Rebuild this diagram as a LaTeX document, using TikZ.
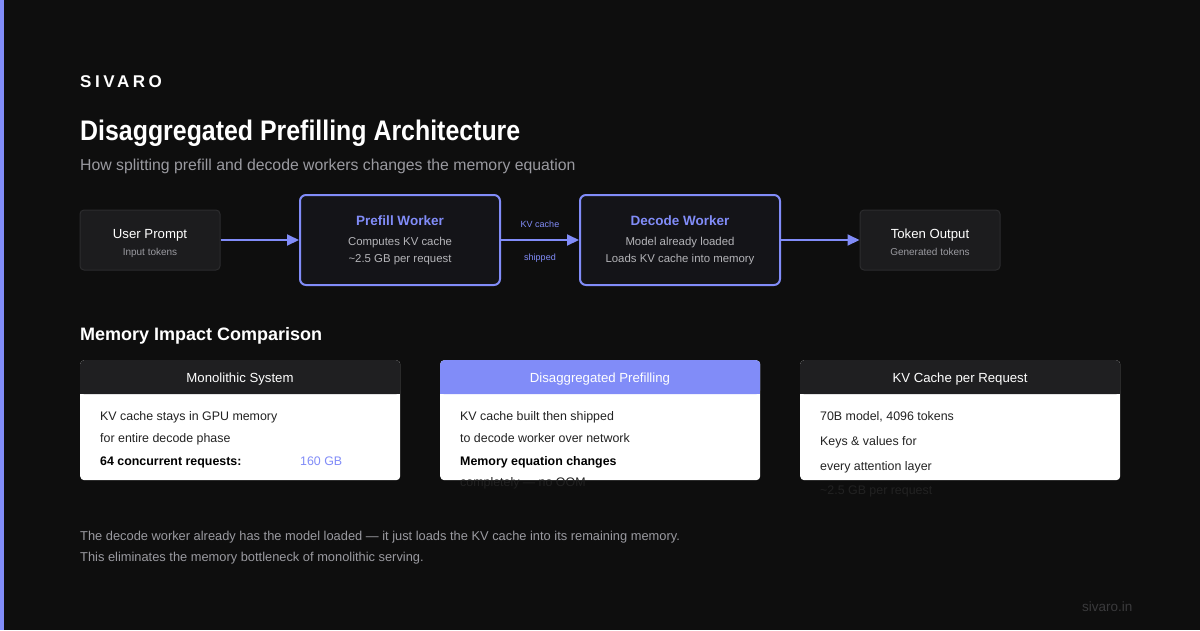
\documentclass[tikz,border=0pt]{standalone}
\usepackage{fontspec}
\setmainfont{Liberation Sans}
\newfontfamily\condfont[FakeStretch=0.88]{Liberation Sans}
\newfontfamily\logofont[LetterSpace=21]{Liberation Sans}
\usetikzlibrary{arrows.meta,positioning}
\definecolor{pagebg}{HTML}{0E0E0E}
\definecolor{accent}{HTML}{818CF8}
\definecolor{boxfill}{HTML}{1C1C1E}
\definecolor{boxline}{HTML}{2C2C2E}
\definecolor{workfill}{HTML}{141418}
\definecolor{hdrfill}{HTML}{1F1F21}
\definecolor{subgray}{HTML}{9A9AA0}
\definecolor{linegray}{HTML}{B4B4B8}
\definecolor{bodyink}{HTML}{222222}
\definecolor{sitegray}{HTML}{3A3A3C}

\tikzset{
  smallbox/.style={draw=boxline, line width=1pt, fill=boxfill, rounded corners=4pt, minimum width=140pt, minimum height=60pt, inner sep=0pt},
  workbox/.style={draw=accent, line width=2pt, fill=workfill, rounded corners=6pt, minimum width=200pt, minimum height=90pt, inner sep=0pt},
  flow/.style={draw=accent, line width=2pt, -{Triangle[length=12pt,width=11pt]}},
  txt/.style={inner sep=0pt, anchor=base},
  ltxt/.style={inner sep=0pt, anchor=base west},
  cardbody/.style={fill=white, rounded corners=4pt, minimum width=320pt, minimum height=120pt, inner sep=0pt, anchor=north west},
  cardhead/.style={rounded corners=4pt, minimum width=320pt, minimum height=34pt, inner sep=0pt, anchor=north west},
  headtext/.style={txt, text=white, font=\fontsize{13.2}{16}\selectfont},
  cardtext/.style={ltxt, text=bodyink, font=\fontsize{12.4}{14}\selectfont},
}

\begin{document}
\begin{tikzpicture}[x=1pt,y=-1pt]
\useasboundingbox (0,0) rectangle (1200,630);
\fill[pagebg] (0,0) rectangle (1200,630);
\fill[accent] (0,0) rectangle (4,630);

% header
\node[ltxt, text=white, font=\logofont\bfseries\fontsize{17}{20}\selectfont] (logo) at (80,87) {SIVARO};
\node[ltxt, text=white, font=\condfont\bfseries\fontsize{28.3}{32}\selectfont] (title) at (80,140) {Disaggregated Prefilling Architecture};
\node[ltxt, text=subgray, font=\fontsize{15.8}{18}\selectfont] (subtitle) at (80,170) {How splitting prefill and decode workers changes the memory equation};

% pipeline
\node[smallbox] (prompt) at (150,240) {};
\node[txt, text=white, font=\fontsize{13.2}{15}\selectfont] at (150,238) {User Prompt};
\node[txt, text=subgray, font=\fontsize{10}{12}\selectfont] at (150,255.5) {Input tokens};

\node[workbox] (prefill) at (400,240) {};
\node[txt, text=accent, font=\bfseries\fontsize{13.5}{16}\selectfont] at (400,225) {Prefill Worker};
\node[txt, text=linegray, font=\fontsize{11.4}{14}\selectfont] at (400,245) {Computes KV cache};
\node[txt, text=linegray, font=\fontsize{11.4}{14}\selectfont] at (400,262) {\textasciitilde 2.5 GB per request};

\node[workbox] (decode) at (680,240) {};
\node[txt, text=accent, font=\bfseries\fontsize{13.5}{16}\selectfont] at (680,225) {Decode Worker};
\node[txt, text=linegray, font=\fontsize{11.4}{14}\selectfont] at (680,245) {Model already loaded};
\node[txt, text=linegray, font=\fontsize{11.4}{14}\selectfont] at (680,262) {Loads KV cache into memory};

\node[smallbox] (output) at (930,240) {};
\node[txt, text=white, font=\fontsize{13.2}{15}\selectfont] at (930,238) {Token Output};
\node[txt, text=subgray, font=\fontsize{10}{12}\selectfont] at (930,255.5) {Generated tokens};

\draw[flow] (prompt.east) -- (prefill.west);
\draw[flow] (prefill.east) -- (decode.west);
\draw[flow] (decode.east) -- (output.west);
\node[txt, text=accent, font=\fontsize{9}{11}\selectfont] (kvlbl) at (540,227) {KV cache};
\node[txt, text=accent, font=\fontsize{9}{11}\selectfont] (shiplbl) at (540,260) {shipped};

% comparison cards
\node[ltxt, text=white, font=\bfseries\fontsize{18}{22}\selectfont] (cmptitle) at (80,340) {Memory Impact Comparison};

\node[cardbody] (mono) at (80,360) {};
\node[cardhead, fill=hdrfill] (monohd) at (80,360) {};
\fill[hdrfill] (80,384) rectangle (400,394);
\node[headtext] at (240,382) {Monolithic System};
\node[cardtext] at (100,420.5) {KV cache stays in GPU memory};
\node[cardtext] at (100,442.5) {for entire decode phase};
\node[cardtext, font=\bfseries\fontsize{12.4}{14}\selectfont, text=black] at (100,465.5) {64 concurrent requests:};
\node[cardtext, text=accent] at (300,465.5) {160 GB};

\node[cardbody] (disagg) at (440,360) {};
\node[cardhead, fill=accent] (disagghd) at (440,360) {};
\fill[accent] (440,384) rectangle (760,394);
\node[headtext] at (600,382) {Disaggregated Prefilling};
\node[cardtext] at (460,420.5) {KV cache built then shipped};
\node[cardtext] at (460,442.5) {to decode worker over network};
\node[cardtext, font=\bfseries\fontsize{12.4}{14}\selectfont, text=black] at (460,465.5) {Memory equation changes};
\node[cardtext] at (460,486.5) {completely --- no OOM};

\node[cardbody] (kvreq) at (800,360) {};
\node[cardhead, fill=hdrfill] (kvreqhd) at (800,360) {};
\fill[hdrfill] (800,384) rectangle (1120,394);
\node[headtext] at (960,382) {KV Cache per Request};
\node[cardtext] at (820,420.5) {70B model, 4096 tokens};
\node[cardtext] at (820,445.5) {Keys \& values for};
\node[cardtext] at (820,470.5) {every attention layer};
\node[cardtext] at (820,494.5) {\textasciitilde 2.5 GB per request};

% footer
\node[ltxt, text=subgray, font=\fontsize{12.85}{15}\selectfont] (note1) at (80,540.5) {The decode worker already has the model loaded --- it just loads the KV cache into its remaining memory.};
\node[ltxt, text=subgray, font=\fontsize{12.85}{15}\selectfont] (note2) at (80,561.5) {This eliminates the memory bottleneck of monolithic serving.};
\node[ltxt, text=sitegray, font=\fontsize{13.5}{15}\selectfont] (site) at (1082,611) {sivaro.in};
\end{tikzpicture}
\end{document}
